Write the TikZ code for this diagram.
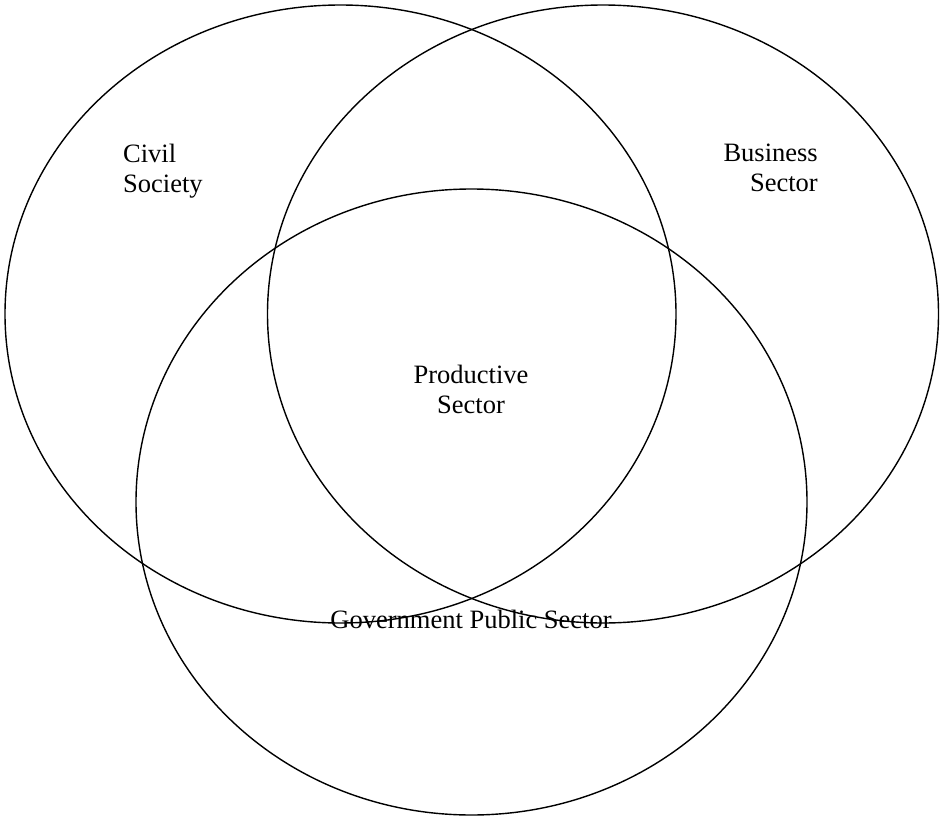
\documentclass[tikz,border=0pt]{standalone}
\usepackage{fontspec}
\setmainfont{Liberation Serif}
\usetikzlibrary{positioning}
\definecolor{ringblack}{HTML}{000000}
\definecolor{textdark}{HTML}{000000}
\tikzset{
  sector/.style={draw=ringblack, line width=1.4pt},
  label/.style={inner sep=0pt, font=\fontsize{26.5}{30}\selectfont, text=textdark}
}

\begin{document}
\begin{tikzpicture}[x=1pt,y=-1pt]
\useasboundingbox (0,0) rectangle (940,819);
% the three sectors
\draw[sector] (340.5,314) ellipse [x radius=335.5pt, y radius=309pt];
\draw[sector] (603,314) ellipse [x radius=335.5pt, y radius=309pt];
\draw[sector] (471.5,502) ellipse [x radius=335.5pt, y radius=313pt];
% sector names
\node[label, anchor=north west, align=left] (civil) at (123,144) {Civil\\Society};
\node[label, anchor=north east, align=right] (business) at (818,144) {Business\\Sector};
\node[label, anchor=north, align=center] (productive) at (471,365) {Productive\\Sector};
\node[label, anchor=north] (government) at (471,610) {Government Public Sector};
\end{tikzpicture}
\end{document}
